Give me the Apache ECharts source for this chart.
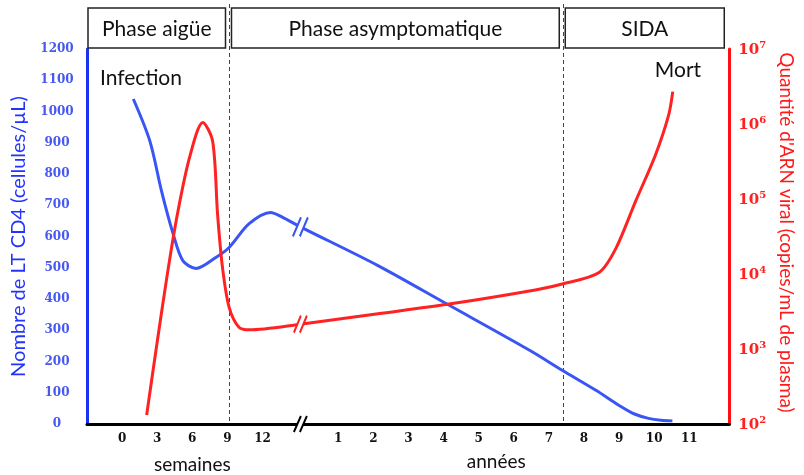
<!DOCTYPE html>
<html>
<head>
<meta charset="utf-8">
<script src="https://cdn.jsdelivr.net/npm/echarts@6/dist/echarts.min.js"></script>
<style>
html, body { margin: 0; padding: 0; background: #fff; }
#chart { width: 804px; height: 475px; }
</style>
</head>
<body>
<div id="chart"></div>
<script>
// x axis is in "slots": weeks/3 on the left part, years + yearStart after the break
var weekLabels = [0, 3, 6, 9, 12];
var yearLabels = [1, 2, 3, 4, 5, 6, 7, 8, 9, 10, 11];
var yearStart = 5.16;
var breakPos = 5.08;
var phaseBounds = [3.06, 12.57];
var phaseNames = ['Phase aigüe', 'Phase asymptomatique', 'SIDA'];

// LT CD4 (cellules/µL)
var cd4X = [0.32, 0.79, 1.12, 1.45, 1.73, 2.11, 2.67, 3.05, 3.62, 4.23, 4.55, 5.08, 7.29, 9.27, 11.61, 12.54, 13.5, 14.2, 14.6, 15.0, 15.35, 15.68];
var cd4Y = [1040, 906, 747, 610, 523, 498, 533, 565, 641, 677, 663, 631, 507, 383, 236, 172, 108, 57, 32, 18, 12, 10];

// ARN viral (copies/mL)
var arnX = [0.70, 0.98, 1.26, 1.54, 1.92, 2.30, 2.58, 2.72, 2.86, 3.05, 3.33, 3.62, 5.08, 7.29, 9.27, 11.81, 12.57, 13.59, 14.07, 14.63, 15.2, 15.57, 15.69];
var arnY = [132, 1070, 8100, 51000, 355000, 1050000, 590000, 63000, 12300, 3600, 1950, 1800, 2140, 2950, 3940, 6170, 7410, 10470, 22000, 93000, 390000, 1300000, 2700000];

var blue = '#3a55f5';
var red = '#ff2222';
var slashPath = 'path://M0,20L7,0M6,20L13,0';
var gapPath = 'path://M0,20L7,0L13,0L6,20Z';

var tickPos = weekLabels.map(function (w) { return w / 3; })
    .concat(yearLabels.map(function (y) { return y + yearStart; }));
var tickText = weekLabels.concat(yearLabels).map(String);

function pairs(xs, ys) {
    return xs.map(function (x, i) { return [x, ys[i]]; });
}

function breakMarks(x, y, color, size) {
    return [
        { coord: [x, y], symbol: gapPath, symbolSize: size, itemStyle: { color: '#fff', borderWidth: 0 } },
        { coord: [x, y], symbol: slashPath, symbolSize: size, itemStyle: { color: 'rgba(0,0,0,0)', borderColor: color, borderWidth: 2.2 } }
    ];
}

var cd4Break = cd4X.indexOf(breakPos);
var arnBreak = arnX.indexOf(breakPos);

var chart = echarts.init(document.getElementById('chart'));

chart.setOption({
    animation: false,
    grid: { left: 87, right: 70, top: 49, bottom: 51 },
    xAxis: {
        type: 'value',
        min: -1,
        max: 17.3,
        axisLine: { lineStyle: { color: '#000', width: 3 } },
        axisTick: { show: false },
        splitLine: { show: false },
        axisLabel: {
            customValues: tickPos,
            margin: 9,
            color: '#111',
            fontFamily: 'DejaVu Serif',
            fontWeight: 'bold',
            fontSize: 12,
            formatter: function (v) {
                for (var i = 0; i < tickPos.length; i++) {
                    if (Math.abs(tickPos[i] - v) < 1e-6) return tickText[i];
                }
                return '';
            }
        }
    },
    yAxis: [
        {
            type: 'value',
            min: 0,
            max: 1200,
            interval: 100,
            name: 'Nombre de LT CD4 (cellules/µL)',
            nameLocation: 'middle',
            nameGap: 58,
            nameTextStyle: { color: '#2233ff', fontSize: 20, fontFamily: 'Lato' },
            axisLine: { show: true, onZero: false, lineStyle: { color: '#1a33f0', width: 3 } },
            axisTick: { show: false },
            splitLine: { show: false },
            axisLabel: {
                align: 'center',
                margin: 30,
                color: '#4658f0',
                fontFamily: 'DejaVu Serif',
                fontWeight: 'bold',
                fontSize: 12,
                formatter: function (v) { return String(v); }
            }
        },
        {
            type: 'log',
            logBase: 10,
            min: 100,
            max: 10000000,
            position: 'right',
            name: 'Quantité d\'ARN viral (copies/mL de plasma)',
            nameLocation: 'middle',
            nameGap: 47,
            nameRotate: -90,
            nameTextStyle: { color: '#ff1a1a', fontSize: 19, fontFamily: 'Lato', padding: [0, 8, 0, 0] },
            axisLine: { show: true, onZero: false, lineStyle: { color: '#ff1010', width: 3 } },
            axisTick: { show: false },
            splitLine: { show: false },
            axisLabel: {
                margin: 9,
                formatter: function (v) {
                    return '{b|10}{s|' + Math.round(Math.log10(v)) + '}';
                },
                rich: {
                    b: { color: '#ff2020', fontFamily: 'DejaVu Serif', fontWeight: 'bold', fontSize: 15, lineHeight: 18, verticalAlign: 'bottom' },
                    s: { color: '#ff2020', fontFamily: 'DejaVu Serif', fontWeight: 'bold', fontSize: 10, lineHeight: 10, verticalAlign: 'top' }
                }
            }
        }
    ],
    series: [
        {
            name: 'CD4',
            type: 'line',
            yAxisIndex: 0,
            smooth: 0.3,
            symbol: 'none',
            lineStyle: { color: blue, width: 3 },
            data: pairs(cd4X, cd4Y),
            markPoint: {
                silent: true,
                label: { show: false },
                data: breakMarks(cd4X[cd4Break], cd4Y[cd4Break], blue, [15, 19])
                    .concat(breakMarks(breakPos, 0, '#000', [13, 16]))
            }
        },
        {
            name: 'ARN',
            type: 'line',
            yAxisIndex: 1,
            smooth: 0.3,
            symbol: 'none',
            lineStyle: { color: red, width: 3 },
            data: pairs(arnX, arnY),
            markPoint: {
                silent: true,
                label: { show: false },
                data: breakMarks(arnX[arnBreak], arnY[arnBreak], red, [13, 17])
            }
        }
    ]
});

// phase header boxes and dashed separators, placed from the x axis scale
function drawPhases() {
    var px = function (v) { return chart.convertToPixel({ xAxisIndex: 0 }, v); };
    var bottom = chart.convertToPixel({ yAxisIndex: 0 }, 0);
    var edges = [px(-1) + 1].concat(phaseBounds.map(px)).concat([px(17.3) - 5]);
    var els = [];
    phaseBounds.forEach(function (b) {
        var x = Math.round(px(b)) + 0.5;
        els.push({
            type: 'line', z: 1,
            shape: { x1: x, y1: 4, x2: x, y2: bottom },
            style: { stroke: '#444', lineWidth: 1, lineDash: [4, 3] }
        });
    });
    phaseNames.forEach(function (name, i) {
        var x0 = i === 0 ? edges[0] : edges[i] + 2;
        var x1 = i === phaseNames.length - 1 ? edges[i + 1] : edges[i + 1] - 4;
        els.push({
            type: 'rect', z: 2,
            shape: { x: x0, y: 8, width: x1 - x0, height: 40 },
            style: { fill: '#fff', stroke: '#222', lineWidth: 1.5 }
        });
        els.push({
            type: 'text', z: 3,
            x: (x0 + x1) / 2, y: 29,
            style: { text: name, fill: '#111', font: '21px Lato', textAlign: 'center', textVerticalAlign: 'middle' }
        });
    });
    els.push({ type: 'text', x: 100, y: 78, style: { text: 'Infection', fill: '#111', font: '21px Lato', textVerticalAlign: 'middle' } });
    els.push({ type: 'text', x: 678, y: 70, style: { text: 'Mort', fill: '#111', font: '21px Lato', textAlign: 'center', textVerticalAlign: 'middle' } });
    els.push({ type: 'text', x: px(2), y: 465, style: { text: 'semaines', fill: '#111', font: '19px Lato', textAlign: 'center', textVerticalAlign: 'middle' } });
    els.push({ type: 'text', x: px(5.5 + yearStart), y: 462, style: { text: 'années', fill: '#111', font: '19px Lato', textAlign: 'center', textVerticalAlign: 'middle' } });
    chart.setOption({ graphic: els });
}

drawPhases();
</script>
</body>
</html>
